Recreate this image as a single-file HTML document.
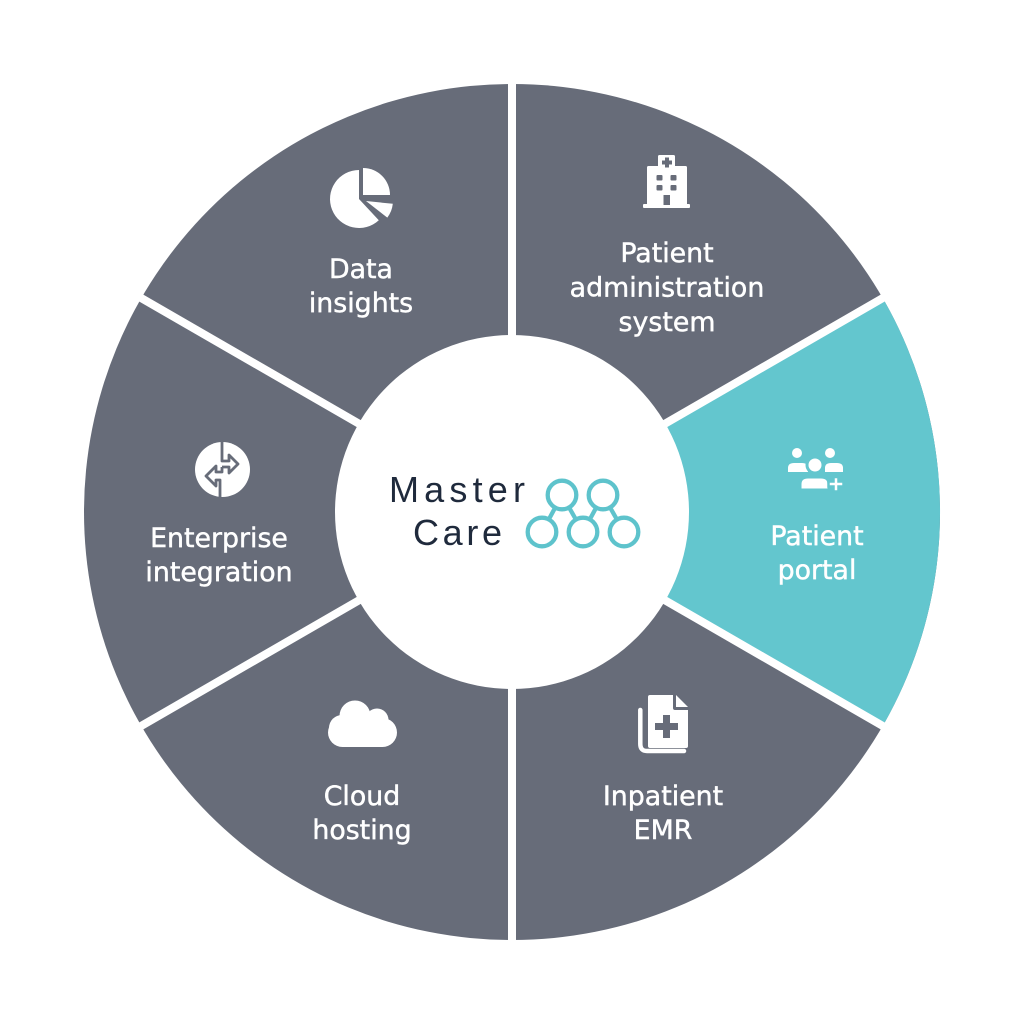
<!DOCTYPE html>
<html>
<head>
<meta charset="utf-8">
<style>
  html, body { margin: 0; padding: 0; background: #ffffff; }
  svg { display: block; }
  .lbl { font-family: "DejaVu Sans", "Liberation Sans", sans-serif; font-size: 26.8px; fill: #ffffff; stroke: #ffffff; stroke-width: 0.45; text-anchor: middle; }
  .logo { font-family: "Liberation Sans", sans-serif; font-size: 36px; fill: #1f2a3c; }
</style>
</head>
<body>
<svg width="1024" height="1024" viewBox="0 0 1024 1024" xmlns="http://www.w3.org/2000/svg">
  <!-- donut base -->
  <circle cx="512" cy="512" r="428" fill="#676c79"/>
  <!-- teal sector -->
  <path d="M512,512 L882.7,298 A428,428 0 0,1 882.7,726 Z" fill="#63c6ce"/>
  <!-- gaps -->
  <g stroke="#ffffff" stroke-width="8">
    <line x1="512" y1="512" x2="512" y2="70"/>
    <line x1="512" y1="512" x2="512" y2="954"/>
    <line x1="512" y1="512" x2="895" y2="291"/>
    <line x1="512" y1="512" x2="895" y2="733"/>
    <line x1="512" y1="512" x2="129" y2="291"/>
    <line x1="512" y1="512" x2="129" y2="733"/>
  </g>
  <circle cx="512" cy="512" r="177" fill="#ffffff"/>

  <!-- Logo -->
  <text class="logo" x="389" y="502" textLength="136" lengthAdjust="spacing">Master</text>
  <text class="logo" x="413" y="545" textLength="89" lengthAdjust="spacing">Care</text>
  <g stroke="#5ec3cc" stroke-width="4.3" fill="#ffffff">
    <line x1="562" y1="495" x2="542" y2="532"/>
    <line x1="562" y1="495" x2="583" y2="532"/>
    <line x1="603" y1="495" x2="583" y2="532"/>
    <line x1="603" y1="495" x2="624" y2="532"/>
    <circle cx="562" cy="495" r="14.3"/>
    <circle cx="603" cy="495" r="14.3"/>
    <circle cx="542" cy="532" r="14.3"/>
    <circle cx="583" cy="532" r="14.3"/>
    <circle cx="624" cy="532" r="14.3"/>
  </g>

  <!-- Data insights icon (pie) -->
  <g fill="#ffffff">
    <path d="M359,199 L359,170 A29,29 0 1,0 378.8,220.2 Z"/>
    <path d="M363,195 L363,168 A27,27 0 0,1 390,195 Z"/>
    <path d="M366,201 L392.8,203.8 A27,27 0 0,1 387.3,217.6 Z"/>
  </g>
  <text class="lbl" x="361" y="278">Data</text>
  <text class="lbl" x="361" y="312">insights</text>

  <!-- Hospital icon -->
  <g>
    <rect x="658" y="155" width="17" height="14" rx="1.5" fill="#ffffff"/>
    <rect x="647" y="166" width="40" height="40" rx="1.5" fill="#ffffff"/>
    <rect x="643" y="204" width="47" height="4" rx="1" fill="#ffffff"/>
    <rect x="665" y="157.5" width="4" height="10" fill="#676c79"/>
    <rect x="662" y="160.5" width="10" height="4" fill="#676c79"/>
    <rect x="656.5" y="175" width="6" height="5.5" rx="1" fill="#676c79"/>
    <rect x="670.5" y="175" width="6" height="5.5" rx="1" fill="#676c79"/>
    <rect x="656.5" y="185" width="6" height="5.5" rx="1" fill="#676c79"/>
    <rect x="670.5" y="185" width="6" height="5.5" rx="1" fill="#676c79"/>
    <rect x="663.5" y="195" width="6.5" height="10" fill="#676c79"/>
  </g>
  <text class="lbl" x="667" y="262">Patient</text>
  <text class="lbl" x="667" y="296.5">administration</text>
  <text class="lbl" x="667" y="331">system</text>

  <!-- Enterprise integration icon -->
  <circle cx="222.5" cy="469.5" r="27.5" fill="#ffffff"/>
  <g stroke="#676c79" stroke-width="2.8" fill="none" stroke-linejoin="round">
    <path d="M222,442 V461 H229 V455 L238,464 L229,473 V467 H222"/>
    <path d="M220,472 H216 V466 L206,476 L216,486 V480 H220 V498"/>
    <path d="M222,467 V472 H220"/>
  </g>
  <text class="lbl" x="219" y="547">Enterprise</text>
  <text class="lbl" x="219" y="581">integration</text>

  <!-- Patient portal icon (people) -->
  <g fill="#ffffff">
    <circle cx="797" cy="453" r="5"/>
    <path d="M788,472 V468 Q788,463 794,463 H802 Q808,463 808,468 V472 Z"/>
    <circle cx="830" cy="453" r="5"/>
    <path d="M825,472 V468 Q825,463 831,463 H837 Q843,463 843,468 V472 Z"/>
    <circle cx="815" cy="465" r="8" stroke="#63c6ce" stroke-width="3"/>
    <path d="M800,490 V484 Q800,477 808,477 H821 Q829,477 829,484 V490 Z" stroke="#63c6ce" stroke-width="3"/>
    <path d="M833.5,477 H838.5 V481.5 H843.5 V486.5 H838.5 V491.5 H833.5 V486.5 H828.5 V481.5 H833.5 Z" stroke="#63c6ce" stroke-width="2.5"/>
  </g>
  <text class="lbl" x="817" y="545">Patient</text>
  <text class="lbl" x="817" y="579">portal</text>

  <!-- Inpatient EMR icon (document) -->
  <g>
    <path d="M640.3,710 V744 Q640.3,751 647,751 H684" stroke="#ffffff" stroke-width="4.5" fill="none" stroke-linecap="round"/>
    <path d="M648,697 Q648,695 650,695 H673 V708 Q673,710 675,710 H688 V746 Q688,748 686,748 H650 Q648,748 648,746 Z" fill="#ffffff"/>
    <path d="M676,695 L688,707 H676 Z" fill="#ffffff"/>
    <rect x="663" y="715" width="7" height="23" fill="#676c79"/>
    <rect x="655" y="723" width="23" height="7" fill="#676c79"/>
  </g>
  <text class="lbl" x="663" y="805">Inpatient</text>
  <text class="lbl" x="663" y="839">EMR</text>

  <!-- Cloud icon -->
  <g fill="#ffffff">
    <rect x="328" y="718" width="69" height="29" rx="14.5"/>
    <circle cx="355" cy="716" r="15.5"/>
    <circle cx="377" cy="720" r="11.5"/>
    <circle cx="342" cy="728" r="13"/>
  </g>
  <text class="lbl" x="362" y="805">Cloud</text>
  <text class="lbl" x="362" y="839">hosting</text>
</svg>
</body>
</html>
